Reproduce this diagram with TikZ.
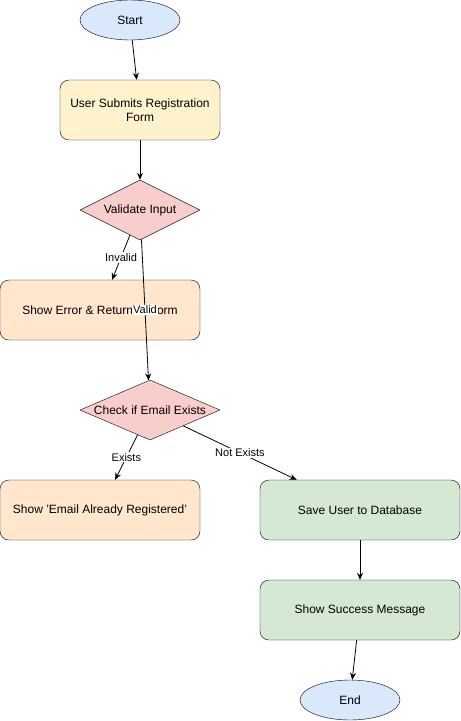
\documentclass[tikz,border=0pt]{standalone}
\usepackage{fontspec}
\setmainfont{Liberation Sans}
\usetikzlibrary{scopes,shapes.geometric,arrows.meta}

\definecolor{termblue}{HTML}{DAE8FC}
\definecolor{stepyellow}{HTML}{FFF2CC}
\definecolor{checkred}{HTML}{F8CECC}
\definecolor{failorange}{HTML}{FFE6CC}
\definecolor{okgreen}{HTML}{D5E8D4}

\begin{document}
\begin{tikzpicture}[
    x=1pt,y=-1pt,
    every node/.style={font=\fontsize{12}{14}\selectfont},
    term/.style={ellipse,draw,fill=termblue,minimum width=100pt,minimum height=40pt,inner sep=0pt},
    box/.style={rectangle,draw,rounded corners=9pt,minimum width=200pt,minimum height=60pt,align=center},
    submit/.style={box,fill=stepyellow,minimum width=160pt},
    fail/.style={box,fill=failorange},
    ok/.style={box,fill=okgreen},
    check/.style={diamond,draw,fill=checkred,aspect=2.33,inner sep=0pt},
    flow/.style={>={Stealth[length=7pt,width=6pt]},draw=black,line width=0.8pt},
    lbl/.style={fill=white,inner sep=1pt,font=\fontsize{11}{13}\selectfont},
]
    \useasboundingbox (0,0) rectangle (461,721);

    % Nodes
    \node[term] (start) at (130,20) {Start};
    \node[submit] (form) at (140,110) {User Submits Registration\\Form};
    \node[check,minimum width=120pt,minimum height=60pt] (validate) at (140,210) {Validate Input};
    \node[fail] (error) at (100,310) {Show Error \& Return to Form};
    \node[check,minimum width=140pt,minimum height=60pt] (exists) at (150,410) {Check if Email Exists};
    \node[fail] (taken) at (100,510) {Show 'Email Already Registered'};
    \node[ok] (save) at (360,510) {Save User to Database};
    \node[ok] (success) at (360,610) {Show Success Message};
    \node[term] (end) at (350,700) {End};

    % Connectors
    {[flow,->]
        \draw (start) -- (form);
        \draw (form) -- (validate);
        \draw (validate) -- node[lbl] {Invalid} (error);
        \draw (validate) -- node[lbl] {Valid} (exists);
        \draw (exists) -- node[lbl] {Exists} (taken);
        \draw (exists) -- node[lbl] {Not Exists} (save);
        \draw (save) -- (success);
        \draw (success) -- (end);
    }
\end{tikzpicture}
\end{document}
